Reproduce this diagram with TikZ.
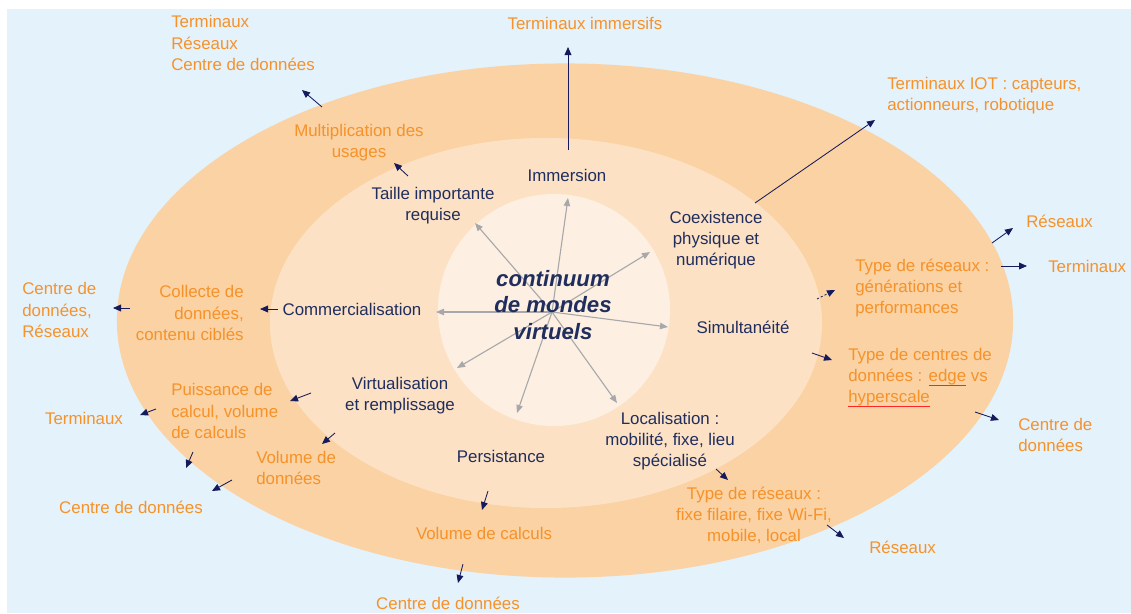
\documentclass[tikz,border=0pt]{standalone}
\usepackage{fontspec}
\setmainfont{Liberation Sans}
\usetikzlibrary{arrows.meta}
\definecolor{skyBlue}{RGB}{228, 242, 252}
\definecolor{ringOuter}{RGB}{250, 210, 163}
\definecolor{ringMiddle}{RGB}{252, 225, 196}
\definecolor{ringInner}{RGB}{253, 240, 226}
\definecolor{labelOrange}{RGB}{246, 146, 42}
\definecolor{labelNavy}{RGB}{32, 46, 94}
\definecolor{arrowNavy}{RGB}{22, 26, 92}
\definecolor{arrowGray}{RGB}{168, 168, 170}
% red spell-check underline
\newsavebox{\markbox}
\newcommand{\spellmark}[1]{\leavevmode\sbox{\markbox}{#1}%
  \rlap{\textcolor{red!85!white}{\rule[-0.45ex]{\wd\markbox}{0.3pt}}}\usebox{\markbox}}

\begin{document}
\begin{tikzpicture}[x=0.025cm, y=-0.025cm,
    txt/.style={inner sep=0pt, font=\fontsize{12}{15}\selectfont},
    theme/.style={txt, text=labelNavy, align=center},
    need/.style={txt, text=labelOrange, align=center},
    stub/.style={arrowNavy, line width=0.6pt, -{Triangle[length=2mm,width=1.7mm]}},
    spoke/.style={arrowGray, line width=0.8pt, -{Triangle[length=2mm,width=1.6mm]}}]
  \useasboundingbox (0,0) rectangle (1131,613);

  % background and rings
  \fill[skyBlue] (7,9) rectangle (1131,613);
  \fill[ringOuter] (565,320.5) ellipse [x radius=11.2cm, y radius=6.425cm];
  \fill[ringMiddle] (546,323) ellipse [x radius=6.9cm, y radius=4.625cm];
  \fill[ringInner] (554,310) circle [radius=2.9cm];

  % spokes from the core
  \coordinate (hub) at (552,312);
  \foreach \n/\x/\y in {imm/568/198, taille/475/223, coex/650/252, comm/436/312,
                        simul/668/327, virt/457/368, pers/517/413, loc/617/403}
    {\coordinate (spoke-\n) at (\x,\y);
     \draw[spoke] (hub) -- (spoke-\n);}

  \node[inner sep=0pt, text=labelNavy, align=center,
        font=\fontsize{15.8}{19}\selectfont\bfseries\itshape] (core) at (553,305)
        {continuum\\de mondes\\virtuels};

  % middle ring
  \node[theme] (imm) at (567,175) {Immersion};
  \node[theme] (taille) at (433,206) {Taille importante\\requise};
  \node[theme] (coex) at (716,240) {Coexistence\\physique et\\numérique};
  \node[theme] (comm) at (352,309) {Commercialisation};
  \node[theme] (simul) at (743,327) {Simultanéité};
  \node[theme] (virt) at (400,396) {Virtualisation\\et remplissage};
  \node[theme] (pers) at (501,456) {Persistance};
  \node[theme] (loc) at (670,441) {Localisation :\\mobilité, fixe, lieu\\spécialisé};

  % outer ring
  \node[need] (mult) at (359,143) {Multiplication des\\usages};
  \node[need, anchor=east, align=right] (coll) at (244,313) {Collecte de\\données,\\contenu ciblés};
  \node[need, anchor=west, align=left] (puis) at (171,411) {Puissance de\\calcul, volume\\de calculs};
  \node[need, anchor=west, align=left] (voldon) at (256,468) {Volume de\\données};
  \node[need] (volcal) at (484,533) {Volume de calculs};
  \node[need] (typfix) at (754,515) {Type de réseaux :\\fixe filaire, fixe Wi-Fi,\\mobile, local};
  \node[need, anchor=west, align=left] (typcen) at (848,377)
        {Type de centres de\\données : \spellmark{edge} vs\\\spellmark{hyperscale}};
  \node[need, anchor=west, align=left] (typgen) at (855,288) {Type de réseaux :\\générations et\\performances};

  % outside
  \node[need, anchor=west, align=left] (all) at (171,43) {Terminaux\\Réseaux\\Centre de données};
  \node[need] (timm) at (585,23) {Terminaux immersifs};
  \node[need, anchor=west, align=left] (tiot) at (887,96) {Terminaux IOT : capteurs,\\actionneurs, robotique};
  \node[need, anchor=west] (resA) at (1026,221) {Réseaux};
  \node[need, anchor=west] (termA) at (1048,266) {Terminaux};
  \node[need, anchor=west, align=left] (cddA) at (1018,435) {Centre de\\données};
  \node[need, anchor=west] (resB) at (869,547) {Réseaux};
  \node[need] (cddB) at (448,603) {Centre de données};
  \node[need] (cddC) at (131,507) {Centre de données};
  \node[need] (termB) at (84,418) {Terminaux};
  \node[need, anchor=west, align=left] (cddres) at (22,310) {Centre de\\données,\\Réseaux};

  % links between the layers
  \foreach \n/\a/\b/\c/\d in {imm/568/150/568/47, taille/408/176/394/163,
      mult/322/107/302/90, coex/755/203/875/120, gen/992/243/1013/228,
      gent/1001/266/1027/266, simul/812/353/832/360, cen/975/412/999/420,
      loc/716/469/728/480, fix/827/525/844/538, pers/488/491/482/510,
      volcal/463/564/458/583, comm/278/309/260/309, coll/130/308/113/308,
      virt/311/393/290/401, virtd/335/433/322/444, puis/156/409/140/415,
      puisd/193/452/186/468, voldon/232/480/212/491}
    {\coordinate (\n-from) at (\a,\b);
     \coordinate (\n-to) at (\c,\d);
     \draw[stub] (\n-from) -- (\n-to);}

  \coordinate (simgen-from) at (817,299);
  \coordinate (simgen-to) at (835,290);
  \draw[stub, dashed, dash pattern=on 1.5pt off 1.5pt] (simgen-from) -- (simgen-to);
\end{tikzpicture}
\end{document}
